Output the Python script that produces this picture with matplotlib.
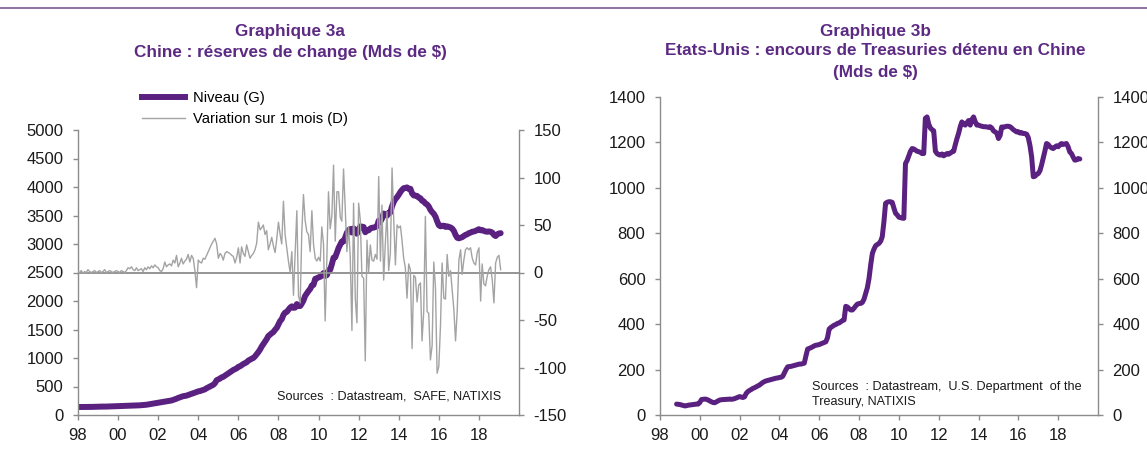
import matplotlib
matplotlib.use('Agg')
import matplotlib.pyplot as plt
from matplotlib.lines import Line2D
import pandas as pd

plt.rcParams['font.family'] = ['Liberation Sans', 'DejaVu Sans']
plt.rcParams['axes.unicode_minus'] = False

PURPLE = '#5b2180'
TITLE_COLOR = '#5c2a83'
GRAY = '#a3a3a3'
AXIS = '#8c8c8c'
TEXT = '#1a1a1a'

# ---------------- Graphique 3a : China FX reserves (Mds $), monthly from Jan 1998
reserves_start = '1998-01'
reserves_level = [
    140, 141, 141, 141, 141, 141, 141, 142, 142, 143, 143, 145,          # 1998
    146, 146, 147, 147, 148, 148, 149, 150, 151, 152, 153, 155,          # 1999
    157, 158, 158, 159, 160, 161, 162, 163, 163, 164, 165, 166,          # 2000
    168, 170, 172, 175, 178, 180, 185, 190, 195, 200, 205, 212,          # 2001
    216, 220, 225, 230, 235, 240, 245, 250, 255, 265, 275, 286,          # 2002
    300, 310, 320, 330, 335, 340, 350, 360, 370, 380, 390, 403,          # 2003
    415, 420, 430, 440, 450, 470, 485, 500, 515, 530, 560, 610,          # 2004
    625, 640, 660, 670, 690, 711, 730, 750, 770, 790, 805, 819,          # 2005
    845, 855, 875, 895, 910, 925, 955, 970, 988, 1000, 1030, 1066,       # 2006
    1105, 1150, 1200, 1245, 1290, 1332, 1385, 1410, 1435, 1455, 1497, 1528,  # 2007
    1590, 1650, 1680, 1757, 1797, 1809, 1845, 1884, 1906, 1880, 1885, 1946,  # 2008
    1913, 1912, 1954, 2009, 2089, 2132, 2175, 2211, 2273, 2284, 2389, 2399,  # 2009
    2415, 2425, 2447, 2490, 2440, 2454, 2538, 2548, 2648, 2760, 2768, 2847,  # 2010
    2932, 2990, 3044, 3045, 3114, 3197, 3245, 3262, 3201, 3274, 3247, 3181,  # 2011
    3254, 3309, 3305, 3299, 3206, 3240, 3240, 3272, 3285, 3287, 3298, 3312,  # 2012
    3410, 3395, 3443, 3534, 3515, 3497, 3548, 3553, 3663, 3736, 3790, 3821,  # 2013
    3865, 3914, 3948, 3979, 3984, 3993, 3966, 3969, 3887, 3853, 3848, 3843,  # 2014
    3813, 3802, 3760, 3748, 3711, 3694, 3660, 3600, 3560, 3530, 3480, 3400,  # 2015
    3330, 3310, 3320, 3320, 3300, 3310, 3300, 3290, 3270, 3230, 3160, 3110,  # 2016
    3100, 3110, 3120, 3140, 3160, 3170, 3190, 3200, 3215, 3220, 3230, 3245,  # 2017
    3260, 3240, 3245, 3230, 3220, 3215, 3220, 3215, 3200, 3160, 3140, 3170,  # 2018
    3185, 3190,                                                          # 2019
]
reserves_change = [
    1, 0, 2, -1, 1, 0, 3, 1, 0, 1, 2, 0,                  # 1998
    1, 2, 0, 1, 3, 0, 1, 2, 1, 0, 1, 2,                   # 1999
    1, 0, 2, 1, 0, 2, 5, 4, 6, 3, 2, 5,                   # 2000
    2, 3, 4, 1, 5, 3, 6, 4, 7, 5, 8, 6,                   # 2001
    5, 2, 1, 4, 11, 6, 8, 9, 7, 13, 10, 18,               # 2002
    6, 10, 15, 9, 12, 14, 19, 11, 18, 15, 2, -16,         # 2003
    13, 11, 10, 15, 14, 18, 22, 26, 30, 33, 36, 30,       # 2004
    15, 20, 18, 13, 20, 22, 21, 20, 18, 17, 10, 16,       # 2005
    26, 10, 27, 20, 17, 29, 22, 15, 18, 20, 24, 31,       # 2006
    53, 45, 47, 50, 40, 44, 24, 30, 37, 28, 21, 35,       # 2007
    53, 40, 30, 75, 40, 26, 12, 0, 22, -24, 20, 65,       # 2008
    -25, -32, 42, 82, 55, 43, 40, 22, 65, 30, 15, 12,     # 2009
    16, 12, 48, 30, -51, 14, 85, 46, 60, 113, 33, 85,     # 2010
    85, 58, 54, 109, 69, 22, 48, 17, -61, 73, -27, -53,   # 2011
    73, 55, -4, -6, -93, 34, 0, 29, 13, 12, 19, 14,       # 2012
    101, 12, 71, -8, 30, 64, 2, 20, 110, 57, 8, 50,       # 2013
    47, 49, 34, 15, 5, -27, 9, 3, -80, -3, -5, -31,       # 2014
    -13, -11, -72, -41, 59, -41, -43, -92, -77, 11, -16, -106,  # 2015
    -99, -55, 10, -27, -28, 19, -4, 2, -19, -39, -72, -41,  # 2016
    13, 24, -2, 13, 24, 26, 24, 26, 15, 10, 8, 21,        # 2017
    26, -30, 9, -12, -14, -4, 3, 6, -8, -32, 10, 16,      # 2018
    18, 3,                                                # 2019
]
left_ticks_3a = [0, 500, 1000, 1500, 2000, 2500, 3000, 3500, 4000, 4500, 5000]
right_ticks_3a = [-150, -100, -50, 0, 50, 100, 150]
legend_labels_3a = ['Niveau (G)', 'Variation sur 1 mois (D)']

# ---------------- Graphique 3b : US Treasuries held by China (Mds $), monthly from Nov 1998
treasuries_start = '1998-11'
treasuries = [
    48, 47,                                                              # 1998
    46, 44, 42, 40, 41, 43, 44, 45, 46, 47, 48, 48,                      # 1999
    55, 68, 69, 70, 69, 66, 62, 58, 55, 54, 58, 62,                      # 2000
    66, 67, 68, 68, 69, 69, 70, 69, 70, 72, 75, 78,                      # 2001
    81, 79, 77, 80, 95, 103, 108, 112, 117, 120, 124, 128,               # 2002
    132, 138, 143, 147, 150, 152, 154, 156, 158, 160, 162, 163,          # 2003
    165, 166, 170, 185, 200, 212, 213, 214, 216, 218, 220, 222,          # 2004
    224, 224, 226, 228, 260, 290, 293, 296, 300, 304, 307, 308,          # 2005
    310, 313, 316, 319, 322, 340, 378, 385, 390, 395, 398, 403,          # 2006
    405, 410, 415, 418, 478, 475, 468, 462, 462, 470, 480, 488,          # 2007
    490, 491, 495, 510, 535, 560, 600, 660, 711, 730, 745, 750,          # 2008
    755, 765, 784, 850, 931, 936, 938, 938, 935, 910, 887, 880,          # 2009
    870, 868, 866, 865, 1106, 1120, 1140, 1160, 1172, 1170, 1165, 1160,  # 2010
    1158, 1155, 1150, 1150, 1305, 1311, 1280, 1262, 1255, 1250, 1160, 1150,  # 2011
    1145, 1143, 1148, 1140, 1145, 1150, 1147, 1152, 1157, 1160, 1190, 1216,  # 2012
    1240, 1270, 1289, 1280, 1275, 1285, 1295, 1275, 1300, 1311, 1290, 1275,  # 2013
    1275, 1272, 1270, 1268, 1268, 1267, 1265, 1268, 1262, 1250, 1245, 1240,  # 2014
    1216, 1230, 1267, 1265, 1268, 1270, 1270, 1268, 1262, 1255, 1250, 1245,  # 2015
    1246, 1240, 1242, 1238, 1238, 1235, 1220, 1185, 1135, 1048, 1050, 1058,  # 2016
    1062, 1075, 1099, 1130, 1160, 1194, 1190, 1180, 1175, 1172, 1178, 1184,  # 2017
    1180, 1188, 1194, 1190, 1192, 1194, 1180, 1157, 1150, 1135, 1121, 1122,  # 2018
    1128, 1126,                                                          # 2019
]
ticks_3b = [0, 200, 400, 600, 800, 1000, 1200, 1400]

# shared x axis
tick_years = [1998, 2000, 2002, 2004, 2006, 2008, 2010, 2012, 2014, 2016, 2018]
tick_labels = ['98', '00', '02', '04', '06', '08', '10', '12', '14', '16', '18']
x_start, x_end = '1998-01-01', '2020-01-01'

dates_res = pd.date_range(reserves_start, periods=len(reserves_level), freq='MS')
dates_tr = pd.date_range(treasuries_start, periods=len(treasuries), freq='MS')

W, H = 1147, 455
fig = plt.figure(figsize=(W / 100, H / 100), dpi=100)

# top purple rule
fig.add_artist(Line2D([0, 1], [1 - 7.5 / H, 1 - 7.5 / H], transform=fig.transFigure,
                      color='#7a5a93', lw=1.2))

TICK_FS = 12
TITLE_FS = 12.3
SRC_FS = 9.1


def style(ax, side):
    for s in ['top', 'left', 'right', 'bottom']:
        ax.spines[s].set_visible(False)
    for s in side:
        ax.spines[s].set_visible(True)
        ax.spines[s].set_color(AXIS)
        ax.spines[s].set_linewidth(1.0)
    ax.tick_params(colors=AXIS, labelcolor=TEXT, labelsize=TICK_FS, length=3.5, width=1, pad=7)
    ax.set_facecolor('none')


def xaxis(ax):
    ax.set_xlim(pd.Timestamp(x_start), pd.Timestamp(x_end))
    ax.set_xticks([pd.Timestamp(f'{y}-01-01') for y in tick_years])
    ax.set_xticklabels(tick_labels)
    ax.tick_params(axis='x', pad=6)


# ---------- chart 3a
ax1 = fig.add_axes([78 / W, 40 / H, 441 / W, 285 / H])
ax1b = ax1.twinx()
style(ax1, ['left', 'bottom'])
style(ax1b, ['right'])
ax1.plot(dates_res, reserves_level, color=PURPLE, lw=4.3, solid_capstyle='round', zorder=2)
ax1b.axhline(0, color=AXIS, lw=1.3, zorder=1)
ax1b.plot(dates_res, reserves_change, color=GRAY, lw=1.0, zorder=3)
ax1.set_ylim(0, 5000)
ax1.set_yticks(left_ticks_3a)
ax1b.set_ylim(-150, 150)
ax1b.set_yticks(right_ticks_3a)
xaxis(ax1)
ax1.set_zorder(ax1b.get_zorder() - 1)

fig.text(290 / W, 1 - 31.7 / H, 'Graphique 3a', ha='center', va='center',
         fontsize=TITLE_FS, fontweight='bold', color=TITLE_COLOR)
fig.text(290 / W, 1 - 53 / H, 'Chine : réserves de change (Mds de $)', ha='center', va='center',
         fontsize=TITLE_FS, fontweight='bold', color=TITLE_COLOR)

handles = [Line2D([], [], color=PURPLE, lw=4.3), Line2D([], [], color=GRAY, lw=1.0)]
fig.legend(handles, legend_labels_3a, loc='upper left', bbox_to_anchor=(142 / W, 1 - 91 / H),
           frameon=False, fontsize=10.6, handlelength=2.9, handletextpad=0.55,
           labelspacing=0.5, borderpad=0, borderaxespad=0)

fig.text(277 / W, 1 - 396.5 / H, 'Sources  : Datastream,  SAFE, NATIXIS', ha='left', va='center',
         fontsize=SRC_FS, color=TEXT)

# ---------- chart 3b
ax2 = fig.add_axes([660 / W, 40 / H, 438 / W, 318.3 / H])
ax2b = ax2.twinx()
style(ax2, ['left', 'bottom'])
style(ax2b, ['right'])
ax2.plot(dates_tr, treasuries, color=PURPLE, lw=3.6, solid_capstyle='round')
ax2.set_ylim(0, 1400)
ax2.set_yticks(ticks_3b)
ax2b.set_ylim(0, 1400)
ax2b.set_yticks(ticks_3b)
xaxis(ax2)

fig.text(875 / W, 1 - 31.7 / H, 'Graphique 3b', ha='center', va='center',
         fontsize=TITLE_FS, fontweight='bold', color=TITLE_COLOR)
fig.text(875 / W, 1 - 50.5 / H, 'Etats-Unis : encours de Treasuries détenu en Chine', ha='center',
         va='center', fontsize=TITLE_FS, fontweight='bold', color=TITLE_COLOR)
fig.text(875 / W, 1 - 73 / H, '(Mds de $)', ha='center', va='center',
         fontsize=TITLE_FS, fontweight='bold', color=TITLE_COLOR)

fig.text(812 / W, 1 - 387 / H, 'Sources  : Datastream,  U.S. Department  of the', ha='left',
         va='center', fontsize=SRC_FS, color=TEXT)
fig.text(812 / W, 1 - 402.5 / H, 'Treasury, NATIXIS', ha='left', va='center',
         fontsize=SRC_FS, color=TEXT)

fig.savefig('out.png', dpi=100)
